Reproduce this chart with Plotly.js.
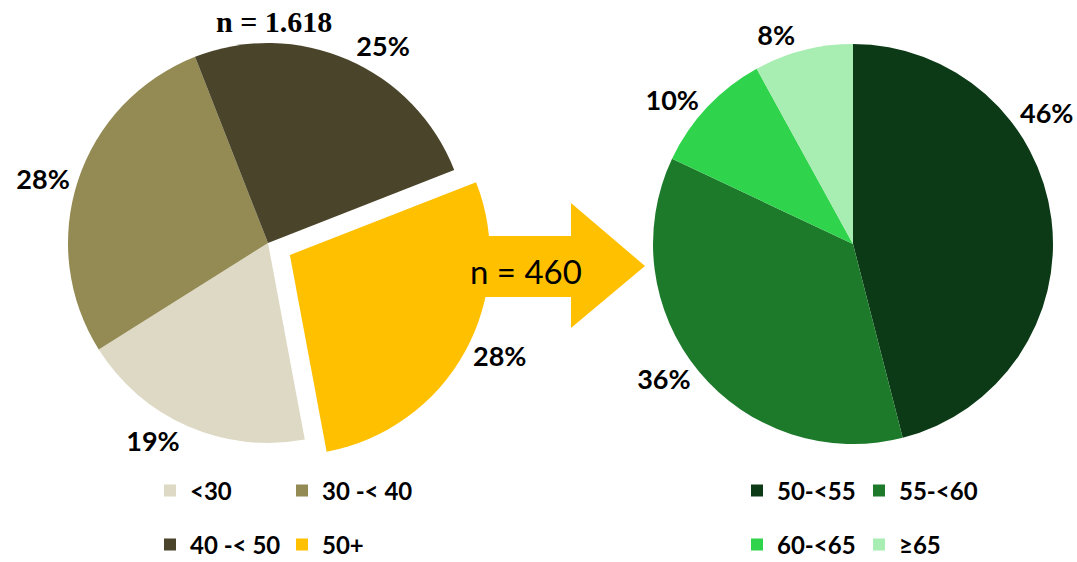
<!DOCTYPE html>
<html>
<head>
<meta charset="utf-8">
<script src="https://cdn.plot.ly/plotly-3.0.1.min.js"></script>
<style>html,body{margin:0;padding:0;background:#fff;}#chart{width:1077px;height:562px;}</style>
</head>
<body>
<div id="chart"></div>
<script>
// ---- data ----
const leftLabels = ['<30', '30 -< 40', '40 -< 50', '50+'];
const leftValues = [19, 28, 25, 28];
const leftTotal = '1.618';
const rightLabels = ['50-<55', '55-<60', '60-<65', '\u226565'];
const rightValues = [46, 36, 10, 8];
const rightTotal = '460';

// ---- styles ----
const leftColors = ['#DDD9C4', '#948A54', '#4A452A', '#FFC000'];
const rightColors = ['#0C3A16', '#1D7A2B', '#2FD44C', '#A8EDB1'];
const leftPull = [0, 0, 0, 0.125];

const W = 1077, H = 562;
const px = v => v / W;
const py = v => 1 - v / H;
const dom = (x0, x1, y0, y1) => ({x: [px(x0), px(x1)], y: [py(y1), py(y0)]});

const labelFont = {family: 'Lato', size: 27, color: '#000', weight: 'bold'};

// legend-only helper pies (hidden under the main pies), two entries per legend row
function legendPie(labels, values, colors, idx, legendId, d) {
  return {
    type: 'pie', sort: false, direction: 'clockwise',
    labels: idx.map(i => labels[i]), values: idx.map(i => values[i]),
    marker: {colors: idx.map(i => colors[i]), line: {width: 0}},
    textinfo: 'none', hoverinfo: 'skip', legend: legendId, domain: d
  };
}

const traces = [
  legendPie(leftLabels, leftValues, leftColors, [0, 1], 'legend', dom(180, 182, 240, 242)),
  legendPie(leftLabels, leftValues, leftColors, [2, 3], 'legend2', dom(180, 182, 250, 252)),
  legendPie(rightLabels, rightValues, rightColors, [0, 1], 'legend3', dom(950, 952, 240, 242)),
  legendPie(rightLabels, rightValues, rightColors, [2, 3], 'legend4', dom(950, 952, 250, 252)),
  {
    type: 'pie', sort: false, direction: 'clockwise', rotation: 169.4,
    labels: leftLabels, values: leftValues, pull: leftPull,
    marker: {colors: leftColors, line: {width: 0}},
    texttemplate: '%{value}%', textposition: 'outside', outsidetextfont: labelFont,
    showlegend: false, domain: dom(43, 493, 18, 468)
  },
  {
    type: 'pie', sort: false, direction: 'clockwise', rotation: 0,
    labels: rightLabels, values: rightValues,
    marker: {colors: rightColors, line: {width: 0}},
    texttemplate: rightValues.map((v, i) => i === 0 ? '' : '%{value}%'),
    textposition: 'outside', outsidetextfont: labelFont,
    showlegend: false, domain: dom(653, 1053, 44, 444)
  }
];

const legFont = {family: 'Lato', size: 24, color: '#000', weight: 'bold'};
function leg(x, y, ew) {
  return {x: px(x), y: py(y), xanchor: 'left', yanchor: 'middle', orientation: 'h',
          entrywidth: ew, entrywidthmode: 'pixels', font: legFont, bgcolor: 'rgba(0,0,0,0)'};
}

const arrowPts = [[470, 236], [571, 236], [571, 203], [645, 266], [571, 328], [571, 297], [470, 297]];
const arrowPath = 'M' + arrowPts.map(p => px(p[0]) + ',' + py(p[1])).join(' L') + ' Z';

const layout = {
  width: W, height: H,
  margin: {l: 0, r: 0, t: 0, b: 0, autoexpand: false},
  paper_bgcolor: '#fff', plot_bgcolor: '#fff',
  showlegend: true,
  legend: leg(150, 491, 87),
  legend2: leg(150, 545, 87),
  legend3: leg(737, 491, 77),
  legend4: leg(737, 545, 77),
  shapes: [{type: 'path', xref: 'paper', yref: 'paper', path: arrowPath,
            fillcolor: '#FFC000', line: {width: 0}, layer: 'below'}],
  annotations: [
    {xref: 'paper', yref: 'paper', x: px(274), y: py(22), text: 'n = ' + leftTotal, showarrow: false,
     xanchor: 'center', yanchor: 'middle',
     font: {family: 'Liberation Serif', size: 30, color: '#000', weight: 'bold'}},
    {xref: 'paper', yref: 'paper', x: px(526), y: py(271), text: 'n = ' + rightTotal, showarrow: false,
     xanchor: 'center', yanchor: 'middle',
     font: {family: 'Lato', size: 33, color: '#000'}},
    {xref: 'paper', yref: 'paper', x: px(1046), y: py(112), text: rightValues[0] + '%', showarrow: false,
     xanchor: 'center', yanchor: 'middle', font: labelFont}
  ]
};

Plotly.newPlot('chart', traces, layout, {displayModeBar: false, staticPlot: true});
</script>
</body>
</html>
